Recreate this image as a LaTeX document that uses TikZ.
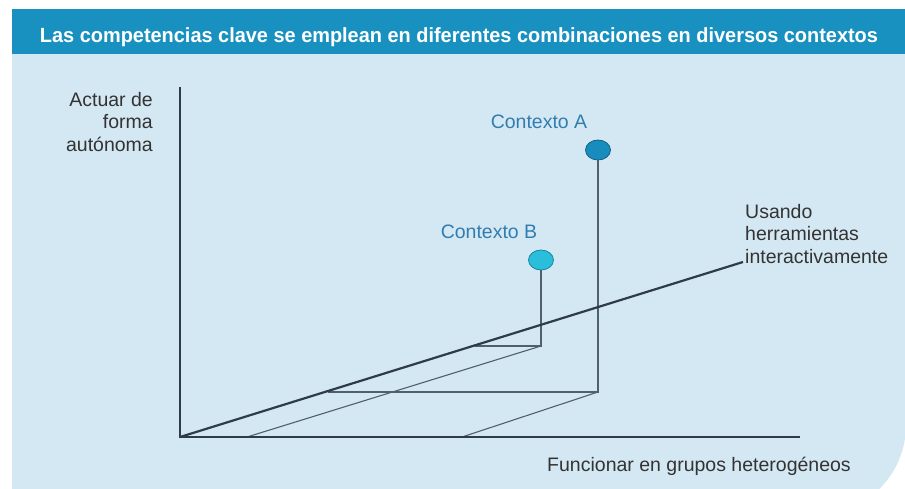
\documentclass[tikz,border=0pt]{standalone}
\usepackage{fontspec}
\setmainfont{Liberation Sans}
\usepackage{graphicx}
\usetikzlibrary{shapes.geometric}
\definecolor{cabecera}{RGB}{25,145,192}
\definecolor{fondo}{RGB}{212,232,243}
\definecolor{azultexto}{RGB}{50,125,175}
\definecolor{ejes}{RGB}{45,60,72}
\definecolor{guias}{RGB}{80,95,110}
\definecolor{rellenoA}{RGB}{25,140,190}
\definecolor{rellenoB}{RGB}{40,190,220}
\begin{document}
\begin{tikzpicture}[x = 1pt, y = 1pt,
		eje/.style = {draw = ejes, line width = 2.6pt},
		diagonal/.style = {draw = ejes, line width = 2.2pt},
		guia/.style = {draw = guias, line width = 1.1pt},
		punto/.style = {ellipse, inner sep = 0, minimum width = 25pt, minimum height = 20pt, line width = 0.8pt},
		rotulo/.style = {font = \fontsize{19.5}{22.5}\selectfont, text = black!80, inner sep = 0},
		contexto/.style = {font = \fontsize{19.5}{22.5}\selectfont, text = azultexto, inner sep = 0}]
		\useasboundingbox (0, 0) rectangle (905, -488);
		\clip (0, 0) rectangle (905, -488);
		\fill[fondo] (12, -54) -- (906, -54) -- (906, -425) arc[start angle = 0, end angle = -90, radius = 90] -- (12, -515) -- cycle;
		\fill[cabecera] (12, -9) rectangle (906, -54);
		\node[text = white, inner sep = 0, anchor = base] (titulo) at (459, -42) {\resizebox{838pt}{\height}{\fontsize{20.5}{24}\selectfont\bfseries Las competencias clave se emplean en diferentes combinaciones en diversos contextos}};
		%%%%%%%%%
		\coordinate (O) at (180, -437);
		\coordinate (ytope) at (180, -87);
		\coordinate (xfin) at (800, -437);
		\coordinate (zfin) at (743, -262);
		\coordinate (pieA) at (598, -392);
		\coordinate (diagA) at (328, -392);
		\coordinate (baseA) at (462, -437);
		\coordinate (pieB) at (541, -346);
		\coordinate (diagB) at (475, -346);
		\coordinate (baseB) at (247, -437);
		%%%%%%%%%
		\node[punto, draw = rellenoA!70!black, fill = rellenoA] (puntoA) at (598, -150) {};
		\node[punto, draw = rellenoB!70!black, fill = rellenoB] (puntoB) at (541, -260) {};
		\draw[guia] (puntoA.south) -- (pieA) -- (diagA);
		\draw[guia] (pieA) -- (baseA);
		\draw[guia] (puntoB.south) -- (pieB) -- (diagB);
		\draw[guia] (pieB) -- (baseB);
		\draw[eje] (ytope) -- (O) -- (xfin);
		\draw[diagonal] (O) -- (zfin);
		%%%%%%%%%
		\node[contexto] (etiquetaA) at (539, -122) {Contexto A};
		\node[contexto] (etiquetaB) at (489, -232) {Contexto B};
		\node[rotulo, align = right, anchor = north east] (autonoma) at (153, -92) {Actuar de\\forma\\autónoma};
		\node[rotulo, align = left, anchor = north west] (herramientas) at (745, -204) {Usando\\herramientas\\interactivamente};
		\node[rotulo, anchor = base] (grupos) at (699, -471) {Funcionar en grupos heterogéneos};
	\end{tikzpicture}
\end{document}
